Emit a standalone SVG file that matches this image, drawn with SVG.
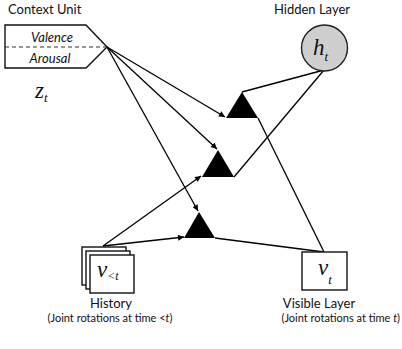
<svg xmlns="http://www.w3.org/2000/svg" width="402" height="349" viewBox="0 0 402 349">
  <style>
    .lbl { font-family: Lato, "Open Sans", "Liberation Sans", sans-serif; font-size: 13px; fill: #111; }
    .sub { font-family: Lato, "Open Sans", "Liberation Sans", sans-serif; font-size: 11px; fill: #111; }
    .it { font-style: italic; }
    .math { font-family: "Liberation Serif", "DejaVu Serif", serif; font-style: italic; fill: #111; }
    .box { fill: #fff; stroke: #111; stroke-width: 1.4; }
    .edge { fill: none; stroke: #000; stroke-width: 1.3; }
    .gate { fill: #000; stroke: none; }
  </style>
  <defs>
    <marker id="arr" viewBox="0 0 10 10" refX="10" refY="5" markerWidth="7" markerHeight="6" markerUnits="userSpaceOnUse" orient="auto">
      <path d="M0,0 L10,5 L0,10 z" fill="#000"/>
    </marker>
  </defs>

  <rect width="402" height="349" fill="#fff"/>

  <!-- connectors -->
  <g id="connectors">
    <line class="edge" x1="107" y1="47" x2="225" y2="117" marker-end="url(#arr)"/>
    <line class="edge" x1="107" y1="47" x2="217" y2="149" marker-end="url(#arr)"/>
    <line class="edge" x1="107" y1="47" x2="198" y2="211" marker-end="url(#arr)"/>
    <line class="edge" x1="103" y1="246" x2="201" y2="176" marker-end="url(#arr)"/>
    <line class="edge" x1="103" y1="246" x2="184" y2="237" marker-end="url(#arr)"/>
    <line class="edge" x1="242" y1="92" x2="324" y2="70"/>
    <line class="edge" x1="324" y1="70" x2="234" y2="177"/>
    <line class="edge" x1="258" y1="118" x2="324" y2="252"/>
    <line class="edge" x1="215" y1="238" x2="324" y2="252"/>
  </g>

  <!-- multiplicative gates -->
  <g id="gate1"><path class="gate" d="M242,92 L258,118 L226,118 z"/></g>
  <g id="gate2"><path class="gate" d="M218,150 L234,177 L202,177 z"/></g>
  <g id="gate3"><path class="gate" d="M199,212 L215,238 L184,238 z"/></g>

  <!-- context unit -->
  <g id="context">
    <text class="lbl" x="8" y="14" font-size="14">Context Unit</text>
    <path class="box" d="M5,25 L86,25 L107,47 L86,68 L5,68 z"/>
    <line x1="5" y1="47" x2="107" y2="47" stroke="#333" stroke-width="1.2" stroke-dasharray="4,3"/>
    <text class="lbl it" x="52" y="42" text-anchor="middle" font-size="14">Valence</text>
    <text class="lbl it" x="50" y="63" text-anchor="middle" font-size="14">Arousal</text>
    <text class="math" x="35" y="98" font-size="23">z<tspan font-size="13" dy="4">t</tspan></text>
  </g>

  <!-- hidden layer -->
  <g id="hidden">
    <text class="lbl" x="312" y="14" text-anchor="middle">Hidden Layer</text>
    <circle cx="324.5" cy="48" r="23" fill="#cfcfcf" stroke="#222" stroke-width="1.4"/>
    <text class="math" x="313" y="55" font-size="23">h<tspan font-size="13" dy="6">t</tspan></text>
  </g>

  <!-- history -->
  <g id="history">
    <rect class="box" x="82" y="247" width="44" height="38"/>
    <rect class="box" x="86" y="251" width="44" height="38"/>
    <rect class="box" x="90" y="255" width="44" height="38"/>
    <text class="math" x="97" y="277" font-size="23">v<tspan font-size="12" dy="3">&lt;t</tspan></text>
    <text class="lbl" x="111" y="308" text-anchor="middle">History</text>
    <text class="sub" x="110" y="322" text-anchor="middle">(Joint rotations at time &lt;<tspan class="it">t</tspan>)</text>
  </g>

  <!-- visible layer -->
  <g id="visible">
    <rect class="box" x="302" y="252" width="45" height="38"/>
    <text class="math" x="318" y="275" font-size="23">v<tspan font-size="13" dy="9">t</tspan></text>
    <text class="lbl" x="319" y="308" text-anchor="middle">Visible Layer</text>
    <text class="sub" x="400" y="322" text-anchor="end">(Joint rotations at time <tspan class="it">t</tspan>)</text>
  </g>
</svg>
